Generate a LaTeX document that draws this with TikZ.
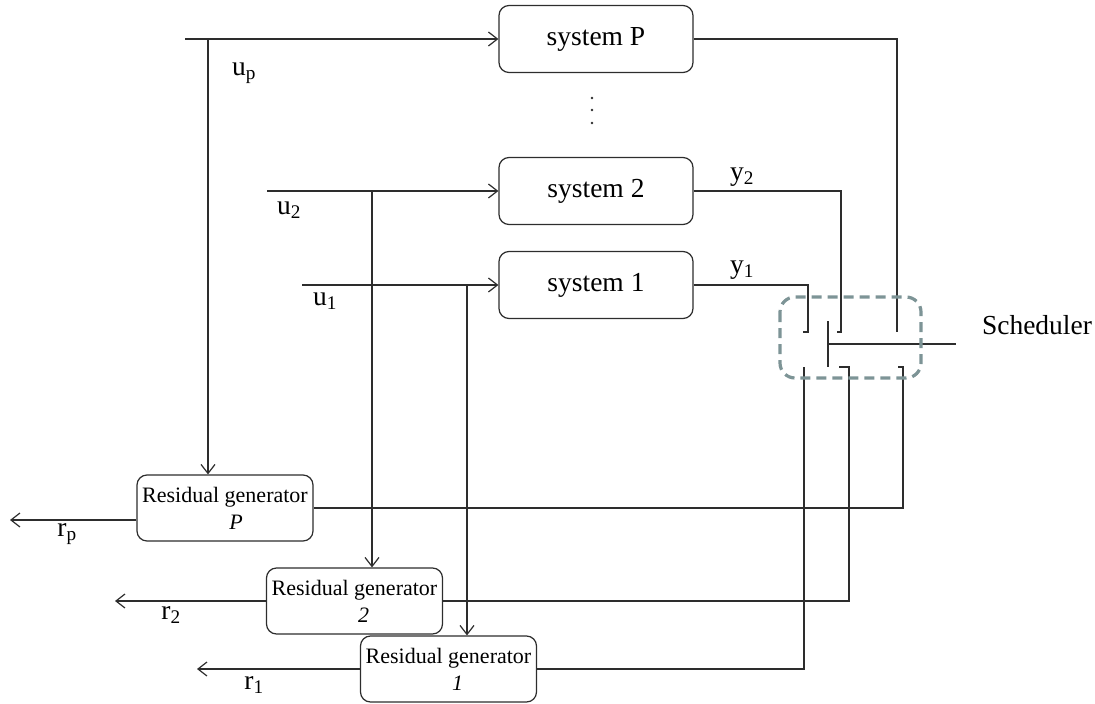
\documentclass[tikz,border=0pt]{standalone}
\usepackage{fontspec}
\setmainfont{Liberation Serif}
\usetikzlibrary{arrows.meta}
\definecolor{schedc}{RGB}{125,148,150}
\definecolor{ln}{RGB}{45,45,45}
\begin{document}
\begin{tikzpicture}[x=1pt,y=-1pt,
  line/.style={draw=ln, line width=1.2pt},
  arr/.style={line, -{Straight Barb[length=9pt,width=14pt,line width=1.2pt]}},
  sys/.style={draw=ln, line width=1.2pt, rounded corners=10pt, minimum width=194pt, minimum height=67pt, inner sep=0pt, font=\fontsize{27.5}{32}\selectfont},
  res/.style={draw=ln, line width=1.2pt, rounded corners=10pt, minimum width=176pt, minimum height=66pt, inner sep=0pt, align=center, font=\fontsize{22}{27}\selectfont},
  lab/.style={inner sep=0pt, font=\fontsize{27.5}{32}\selectfont},
  sched/.style={draw=schedc, line width=3.2pt, dash pattern=on 10pt off 6pt, rounded corners=15pt}]
\useasboundingbox (0,0) rectangle (1095,704);

% systems
\node[sys] (sysP) at (596,39) {system P};
\node[sys] (sys2) at (596,191) {system 2};
\node[sys] (sys1) at (596,285) {system 1};
\fill[ln] (592,98) circle (1.3pt) (592,110) circle (1.3pt) (592,123) circle (1.3pt);

% residual generators
\node[res] (resP) at (225,508) {Residual generator\\\hspace*{22pt}\textit{P}};
\node[res] (res2) at (354.5,601) {Residual generator\\\hspace*{18pt}\textit{2}};
\node[res] (res1) at (448.5,669) {Residual generator\\\hspace*{18pt}\textit{1}};

% inputs
\coordinate (uPs) at (185,39);
\coordinate (u2s) at (267,191);
\coordinate (u1s) at (302,285);
\coordinate (uPb) at (208,39);
\coordinate (u2b) at (372,191);
\coordinate (u1b) at (467,285);
\draw[arr] (uPs) -- (sysP.west);
\draw[arr] (u2s) -- (sys2.west);
\draw[arr] (u1s) -- (sys1.west);
\draw[arr] (uPb) -- (uPb |- resP.north);
\draw[arr] (u2b) -- (u2b |- res2.north);
\draw[arr] (u1b) -- (u1b |- res1.north);
\node[lab] (luP) at (244,73) {u\textsubscript{p}};
\node[lab] (lu2) at (289,210) {u\textsubscript{2}};
\node[lab] (lu1) at (325,301) {u\textsubscript{1}};

% outputs r
\coordinate (rPe) at (10,520);
\coordinate (r2e) at (115,601);
\coordinate (r1e) at (197,669);
\draw[arr] (resP.west |- rPe) -- (rPe);
\draw[arr] (res2.west) -- (r2e);
\draw[arr] (res1.west) -- (r1e);
\node[lab] (lrP) at (67,534) {r\textsubscript{p}};
\node[lab] (lr2) at (171,615) {r\textsubscript{2}};
\node[lab] (lr1) at (254,685) {r\textsubscript{1}};

% outputs y to scheduler
\coordinate (c1) at (808,332);
\coordinate (c2) at (841,332);
\coordinate (cP) at (897,332);
\draw[line] (sys1.east) -| (c1) -- ++(-5,0);
\draw[line] (sys2.east) -| (c2) -- ++(-4,0);
\draw[line] (sysP.east) -| (cP);
\node[lab] (ly2) at (742,177) {y\textsubscript{2}};
\node[lab] (ly1) at (742,270) {y\textsubscript{1}};

% scheduler switch
\coordinate (pt) at (828,321);
\coordinate (pb) at (828,367);
\coordinate (pv) at (828,344);
\coordinate (pe) at (956,344);
\draw[line] (pt) -- (pb);
\draw[line] (pv) -- (pe);
\coordinate (d1) at (804,367);
\coordinate (d2) at (849,367);
\coordinate (dP) at (903,367);
\draw[line] (d1) |- (res1.east);
\draw[line] (839,367) -- (d2) |- (res2.east);
\draw[line] (898,367) -- (dP) |- (resP.east);
\draw[sched] (780,297) rectangle (921,378);
\node[lab] (lsch) at (1037,325) {Scheduler};
\end{tikzpicture}
\end{document}
